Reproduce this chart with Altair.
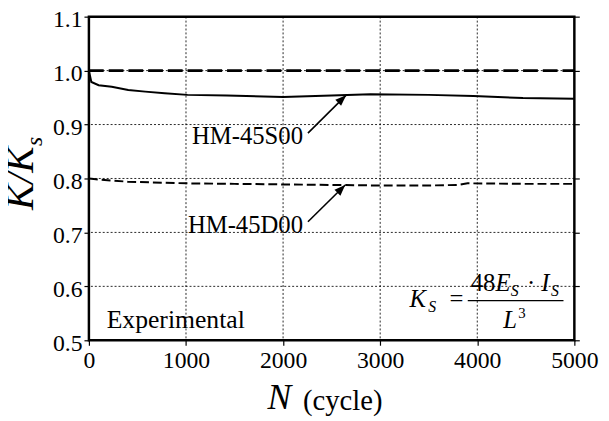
import altair as alt
import pandas as pd

FONT = "Liberation Serif"

# ---- data ----
n_s00 = [0, 25, 100, 235, 405, 580, 780, 1015, 1420, 2000, 2500, 2900, 3500, 3960, 4470, 5000]
k_s00 = [1.000, 0.979, 0.973, 0.970, 0.964, 0.961, 0.958, 0.955, 0.954, 0.951, 0.954, 0.956, 0.955, 0.953, 0.949, 0.948]

n_d00 = [0, 50, 100, 400, 1000, 1500, 2000, 2500, 3000, 3500, 3800, 3900, 4500, 5000]
k_d00 = [0.800, 0.799, 0.798, 0.794, 0.791, 0.790, 0.789, 0.788, 0.787, 0.787, 0.788, 0.791, 0.790, 0.790]

n_ref = [0, 5000]
k_ref = [1.0, 1.0]

x_ticks = [0, 1000, 2000, 3000, 4000, 5000]
y_ticks = [0.5, 0.6, 0.7, 0.8, 0.9, 1.0, 1.1]

series_labels = ["HM-45S00", "HM-45D00"]

# ---- scales / axes ----
xs = alt.Scale(domain=[0, 5000], nice=False, zero=False)
ys = alt.Scale(domain=[0.5, 1.1], nice=False, zero=False)

common_axis = dict(
    title=None, grid=False, domain=False, tickColor="black", tickSize=5, tickWidth=1.2,
    labelFont=FONT, labelFontSize=24, labelColor="black", labelFlush=False,
)
x_axis = alt.Axis(values=x_ticks, format="d", labelPadding=4, **common_axis)
y_axis = alt.Axis(values=y_ticks, format=".1f", labelPadding=2, labelOffset=3, **common_axis)

X = lambda f: alt.X(f, type="quantitative", scale=xs, axis=None)
Y = lambda f: alt.Y(f, type="quantitative", scale=ys, axis=None)

df_s = pd.DataFrame({"n": n_s00, "k": k_s00})
df_d = pd.DataFrame({"n": n_d00, "k": k_d00})
df_r = pd.DataFrame({"n": n_ref, "k": k_ref})

# dotted grid
gx = pd.DataFrame({"n": x_ticks[1:-1]})
gy = pd.DataFrame({"k": y_ticks[1:-1]})
grid_x = alt.Chart(gx).mark_rule(color="black", strokeWidth=1, strokeDash=[2, 2], opacity=0.85).encode(x=X("n"))
grid_y = alt.Chart(gy).mark_rule(color="black", strokeWidth=1, strokeDash=[2, 2], opacity=0.85).encode(y=Y("k"))

s_line = alt.Chart(df_s).mark_line(color="black", strokeWidth=2).encode(
    x=alt.X("n:Q", scale=xs, axis=x_axis), y=alt.Y("k:Q", scale=ys, axis=y_axis)
)
d_line = alt.Chart(df_d).mark_line(color="black", strokeWidth=2, strokeDash=[9, 4]).encode(
    x=X("n"), y=Y("k")
)
r_line = alt.Chart(df_r).mark_line(color="black", strokeWidth=2.6, strokeDash=[15, 5]).encode(
    x=X("n"), y=Y("k")
)

# mirror ticks on the right side
right_ticks = alt.Chart(df_r).mark_point(opacity=0).encode(
    x=X("n"),
    y=alt.Y("k:Q", scale=ys, axis=alt.Axis(
        orient="right", values=y_ticks, labels=False, title=None, grid=False,
        domain=False, tickColor="black", tickSize=5, tickWidth=1.2)),
)

# ---- annotations ----
lab_df = pd.DataFrame({"text": series_labels, "n": [2205, 2205], "k": [0.864, 0.6996]})
labels = alt.Chart(lab_df).mark_text(
    align="right", baseline="alphabetic", font=FONT, fontSize=25, color="black"
).encode(x=X("n"), y=Y("k"), text="text:N")

arr_df = pd.DataFrame({
    "n": [2256, 2256], "k": [0.884, 0.7197],
    "n2": [2650, 2640], "k2": [0.9545, 0.788],
    "angle": [46.5, 45.0],
})
arrow_lines = alt.Chart(arr_df).mark_rule(color="black", strokeWidth=1.6).encode(
    x=X("n"), y=Y("k"), x2="n2:Q", y2="k2:Q"
)
arrow_heads = alt.Chart(arr_df).mark_point(
    shape="M0,0L-0.38,1L0.38,1Z", filled=True, color="black", opacity=1, size=500
).encode(x=X("n2"), y=Y("k2"), angle=alt.Angle("angle:Q", scale=None))

exp_df = pd.DataFrame({"text": ["Experimental"], "n": [183], "k": [0.522]})
exp_text = alt.Chart(exp_df).mark_text(
    align="left", baseline="alphabetic", font=FONT, fontSize=26, color="black"
).encode(x=X("n"), y=Y("k"), text="text:N")

# formula K_S = 48 E_S . I_S / L^3
it_df = pd.DataFrame({
    "text": ["K", "S", "E", "S", "I", "S", "L"],
    "n": [3303, 3496, 4187, 4345, 4660, 4760, 4268],
    "k": [0.5625, 0.5516, 0.5918, 0.5826, 0.5918, 0.5826, 0.5223],
    "size": [25, 16, 25, 16, 25, 16, 25],
})
rg_df = pd.DataFrame({
    "text": ["=", "48", "·", "3"],
    "n": [3715, 3933, 4512, 4421],
    "k": [0.5625, 0.5918, 0.5918, 0.5406],
    "size": [25, 25, 25, 15],
})
f_it = alt.Chart(it_df).mark_text(
    align="left", baseline="alphabetic", font=FONT, fontStyle="italic", color="black"
).encode(x=X("n"), y=Y("k"), text="text:N", size=alt.Size("size:Q", scale=None))
f_rg = alt.Chart(rg_df).mark_text(
    align="left", baseline="alphabetic", font=FONT, color="black"
).encode(x=X("n"), y=Y("k"), text="text:N", size=alt.Size("size:Q", scale=None))
bar_df = pd.DataFrame({"n": [3902], "n2": [4888], "k": [0.5735]})
f_bar = alt.Chart(bar_df).mark_rule(color="black", strokeWidth=1.4).encode(
    x=X("n"), x2="n2:Q", y=Y("k")
)

# ---- axis titles (with sub/italic pieces) ----
one = pd.DataFrame({"a": [0]})
ytitle = alt.Chart(one).mark_text(
    text="K/K", angle=270, align="left", baseline="alphabetic", font=FONT,
    fontStyle="italic", fontSize=40, color="black"
).encode(x=alt.value(-57), y=alt.value(196))
ytitle_sub = alt.Chart(one).mark_text(
    text="s", angle=270, align="left", baseline="alphabetic", font=FONT,
    fontStyle="italic", fontSize=24, color="black"
).encode(x=alt.value(-48), y=alt.value(131))
xtitle_n = alt.Chart(one).mark_text(
    text="N", align="left", baseline="alphabetic", font=FONT,
    fontStyle="italic", fontSize=36, color="black"
).encode(x=alt.value(181), y=alt.value(398))
xtitle_c = alt.Chart(one).mark_text(
    text="(cycle)", align="left", baseline="alphabetic", font=FONT,
    fontSize=29, color="black"
).encode(x=alt.value(217), y=alt.value(399))

chart = alt.layer(
    grid_x, grid_y, s_line, d_line, r_line, right_ticks, labels, arrow_lines, arrow_heads,
    exp_text, f_it, f_rg, f_bar, ytitle, ytitle_sub, xtitle_n, xtitle_c,
).resolve_axis(x="independent", y="independent").properties(
    width=492, height=328,
    autosize=alt.AutoSizeParams(type="none"),
    padding={"left": 82, "top": 6, "right": 27, "bottom": 78},
    background="white",
).configure_view(stroke="black", strokeWidth=2.5)

chart.save("out.html", embed_options={"renderer": "svg", "actions": False})
